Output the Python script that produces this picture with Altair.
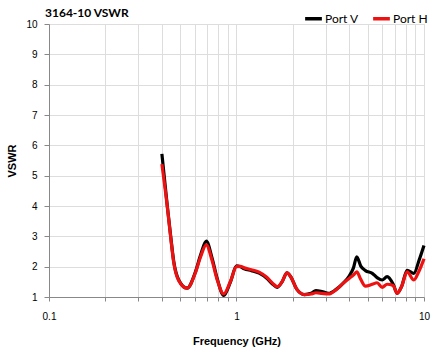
import altair as alt
import pandas as pd

title_text = ["3164-10 VSWR"]

freq = [0.40, 0.427, 0.445, 0.463, 0.492, 0.545, 0.604, 0.643, 0.69, 0.741, 0.788,
        0.855, 0.929, 1.0, 1.05, 1.1, 1.2, 1.32, 1.45, 1.56, 1.65, 1.75, 1.86, 1.95,
        2.1, 2.3, 2.5, 2.65, 2.85, 3.1, 3.4, 3.7, 4.0, 4.2, 4.38, 4.6, 4.87, 5.3,
        5.62, 5.98, 6.36, 6.85, 7.19, 7.6, 8.13, 8.83, 9.4, 10.0]
port_v = [5.72, 4.03, 3.04, 2.16, 1.56, 1.29, 1.83, 2.38, 2.84, 2.28, 1.62,
          1.05, 1.50, 2.03, 2.0, 1.93, 1.87, 1.79, 1.62, 1.42, 1.32, 1.50, 1.80, 1.66,
          1.25, 1.08, 1.12, 1.21, 1.18, 1.12, 1.25, 1.45, 1.70, 1.95, 2.32, 2.02, 1.87, 1.78,
          1.64, 1.56, 1.67, 1.42, 1.12, 1.35, 1.88, 1.78, 2.20, 2.70]
port_h = [5.38, 4.00, 3.00, 2.12, 1.54, 1.29, 1.80, 2.32, 2.72, 2.20, 1.58,
          1.10, 1.52, 2.00, 2.01, 1.96, 1.90, 1.82, 1.65, 1.45, 1.34, 1.50, 1.80, 1.66,
          1.25, 1.08, 1.10, 1.14, 1.12, 1.10, 1.24, 1.45, 1.62, 1.72, 1.83, 1.58, 1.36, 1.42,
          1.47, 1.32, 1.42, 1.38, 1.12, 1.35, 1.83, 1.56, 1.85, 2.26]

x_ticks = [0.1, 0.2, 0.3, 0.4, 0.5, 0.6, 0.7, 0.8, 0.9, 1, 2, 3, 4, 5, 6, 7, 8, 9, 10]
y_ticks = [1, 2, 3, 4, 5, 6, 7, 8, 9, 10]
series = ["Port V", "Port H"]
colors = ["#000000", "#ee1111"]

rows = []
for f, v, h in zip(freq, port_v, port_h):
    rows.append({"f": f, "vswr": v, "port": "Port V"})
    rows.append({"f": f, "vswr": h, "port": "Port H"})
df = pd.DataFrame(rows)

FONT = "Lato"

x_enc = alt.X("f:Q", scale=alt.Scale(type="log", domain=[0.1, 10]),
              axis=alt.Axis(values=x_ticks, title="Frequency (GHz)",
                            labelExpr="datum.value == 0.1 ? '0.1' : datum.value == 1 ? '1' : datum.value == 10 ? '10' : ''",
                            tickSize=4, labelPadding=10, titleY=44, titleBaseline="middle",
                            labelFlush=False))
y_enc = alt.Y("vswr:Q", scale=alt.Scale(domain=[1, 10]),
              axis=alt.Axis(values=y_ticks, title="VSWR", tickSize=5, labelPadding=7,
                            titleX=-37, titleBaseline="middle"))
color_enc = alt.Color("port:N", scale=alt.Scale(domain=series, range=colors),
                      legend=alt.Legend(title=None, orient="none", direction="horizontal",
                                        legendX=254, legendY=-16, symbolType="stroke",
                                        symbolSize=280, symbolStrokeWidth=3.5,
                                        labelFontSize=12, labelFont=FONT, labelOffset=1,
                                        columnPadding=7, labelColor="#000000"))

base = alt.Chart(df).mark_line(strokeWidth=3.2, interpolate="monotone")
black = base.transform_filter(alt.datum.port == "Port V").encode(x=x_enc, y=y_enc, color=color_enc)
red = base.transform_filter(alt.datum.port == "Port H").encode(x=x_enc, y=y_enc, color=color_enc)

title = alt.Chart(pd.DataFrame({"t": title_text})).mark_text(
    font=FONT, fontSize=12, fontWeight="bold", color="#000000",
    align="left", baseline="middle"
).encode(text="t:N", x=alt.value(-4), y=alt.value(-11.5))

chart = alt.layer(black, red, title).properties(
    width=375, height=273,
    autosize=alt.AutoSizeParams(type="none"),
    padding={"left": 49, "top": 24, "right": 13, "bottom": 57},
).configure_view(strokeWidth=0).configure_axis(
    gridColor="#c6c6c6", domainColor="#a6a6a6", tickColor="#a6a6a6",
    labelFont=FONT, labelFontSize=12, labelColor="#000000",
    titleFont=FONT, titleFontSize=12, titleFontWeight="bold", titleColor="#000000",
).configure(background="#ffffff")

chart.save("out.html", embed_options={"renderer": "svg", "actions": False})
